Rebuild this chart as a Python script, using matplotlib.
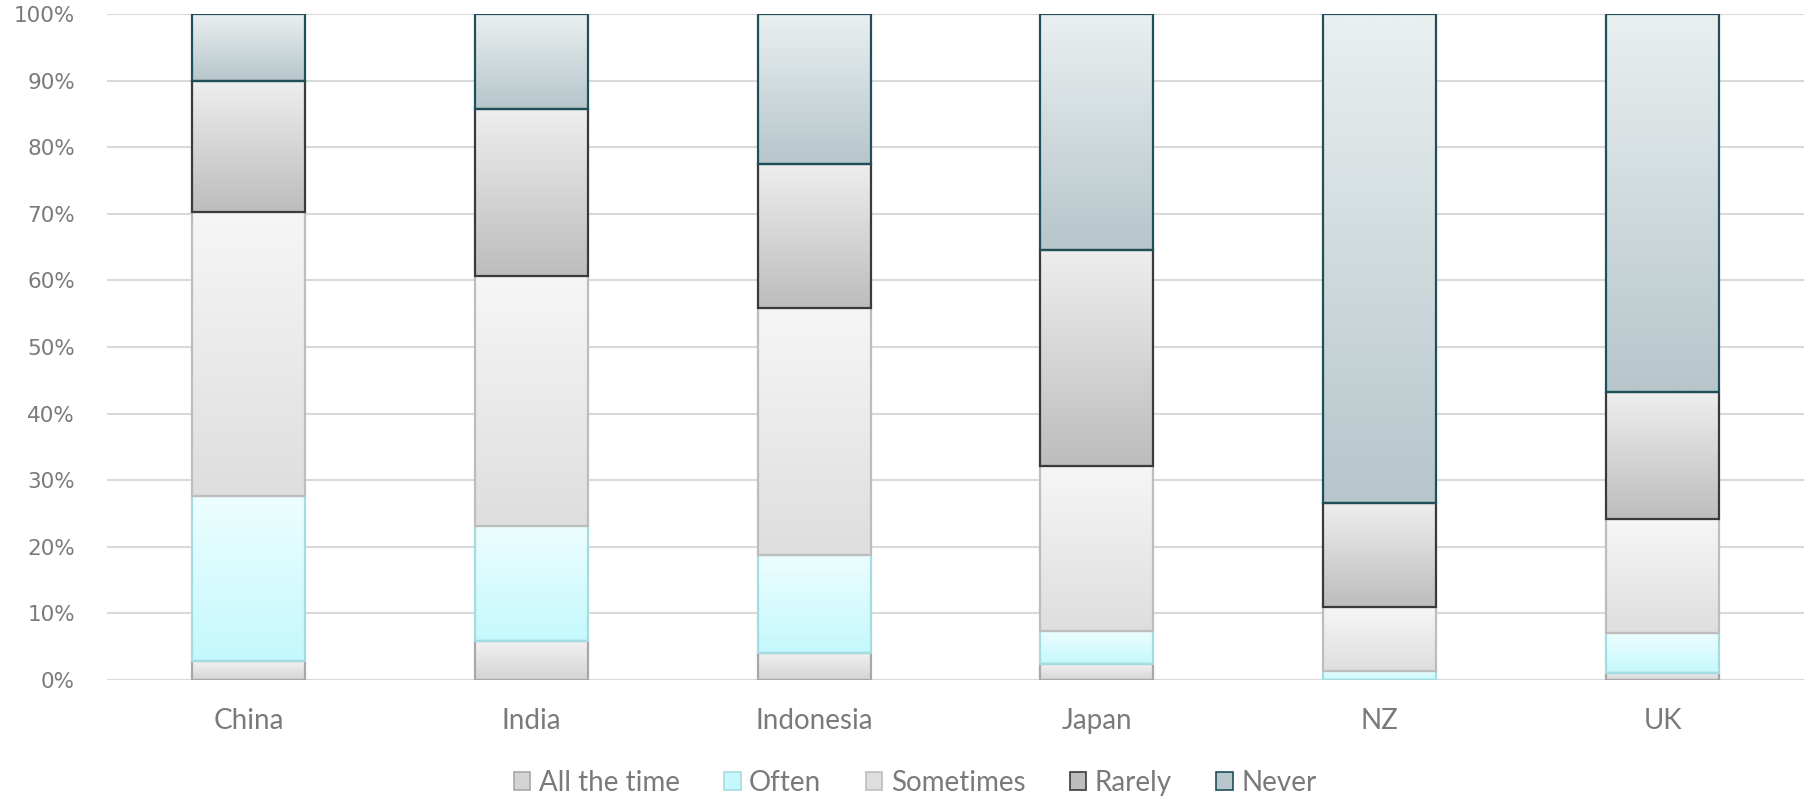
import numpy as np
import matplotlib.pyplot as plt
from matplotlib.colors import to_rgb
from matplotlib.patches import Patch
from matplotlib.ticker import PercentFormatter

plt.rcParams['font.family'] = ['Lato', 'DejaVu Sans']

countries = ['China', 'India', 'Indonesia', 'Japan', 'NZ', 'UK']
series = ['All the time', 'Often', 'Sometimes', 'Rarely', 'Never']

# percentages per country (each column sums to 100)
all_the_time = [2.8, 5.9, 4.1, 2.4, 0.0, 1.1]
often = [24.8, 17.2, 14.6, 5.0, 1.4, 5.9]
sometimes = [42.7, 37.5, 37.1, 24.7, 9.6, 17.2]
rarely = [19.7, 25.1, 21.7, 32.5, 15.6, 19.0]
never = [10.0, 14.3, 22.5, 35.4, 73.4, 56.8]

values = [all_the_time, often, sometimes, rarely, never]

# (top colour, bottom colour, edge colour)
styles = [
    ('#f2f2f2', '#d4d4d4', '#a8a8a8'),
    ('#edfeff', '#c4f8fc', '#a5dce2'),
    ('#f6f6f6', '#dedede', '#bdbdbd'),
    ('#eeeeee', '#bdbdbd', '#3a3a3a'),
    ('#eaeff0', '#b6c6cb', '#1f4f5a'),
]
text_color = '#7a7a7a'

fig = plt.figure(figsize=(18.04, 7.99), dpi=100)
ax = fig.add_axes([107 / 1804, 1 - 680 / 799, 1 - 107 / 1804, 666 / 799])

x = np.arange(len(countries))
width = 0.4
bottom = np.zeros(len(countries))

for vals, (top_c, bot_c, edge_c) in zip(values, styles):
    vals = np.array(vals)
    bars = ax.bar(x, vals, width, bottom=bottom, facecolor='none',
                  edgecolor=edge_c, linewidth=1.6, zorder=4)
    t = np.array(to_rgb(top_c))
    b = np.array(to_rgb(bot_c))
    grad = np.linspace(0, 1, 64)[:, None]
    img = (t[None, :] * (1 - grad) + b[None, :] * grad)[:, None, :]
    for rect in bars:
        if rect.get_height() <= 0:
            continue
        x0 = rect.get_x()
        y0 = rect.get_y()
        im = ax.imshow(img, extent=(x0, x0 + rect.get_width(), y0, y0 + rect.get_height()),
                       aspect='auto', origin='upper', interpolation='bilinear', zorder=3)
        im.set_clip_path(rect)
    bottom += vals

ax.set_xlim(-0.5, len(countries) - 0.5)
ax.set_ylim(0, 100)
ax.set_yticks(np.arange(0, 101, 10))
ax.yaxis.set_major_formatter(PercentFormatter(decimals=0))
ax.set_xticks(x)
ax.set_xticklabels(countries, fontsize=20)
for lbl in ax.get_yticklabels():
    lbl.set_family('DejaVu Sans')

ax.grid(axis='y', color='#d9d9d9', linewidth=1.5, zorder=0)
ax.set_axisbelow(True)
for s in ax.spines.values():
    s.set_visible(False)
ax.tick_params(axis='both', length=0, labelcolor=text_color)
ax.tick_params(axis='y', pad=23, labelsize=15.5)
ax.tick_params(axis='x', pad=20)

handles = [Patch(facecolor=bot_c, edgecolor=edge_c, linewidth=1.2, label=name)
           for name, (top_c, bot_c, edge_c) in zip(series, styles)]
fig.legend(handles=handles, loc='center', bbox_to_anchor=(915 / 1804, 1 - 783 / 799),
           ncol=5, frameon=False, fontsize=20, labelcolor=text_color,
           handlelength=0.6, handleheight=0.6, handletextpad=0.3, columnspacing=1.6)

fig.savefig('out.png', dpi=100)
